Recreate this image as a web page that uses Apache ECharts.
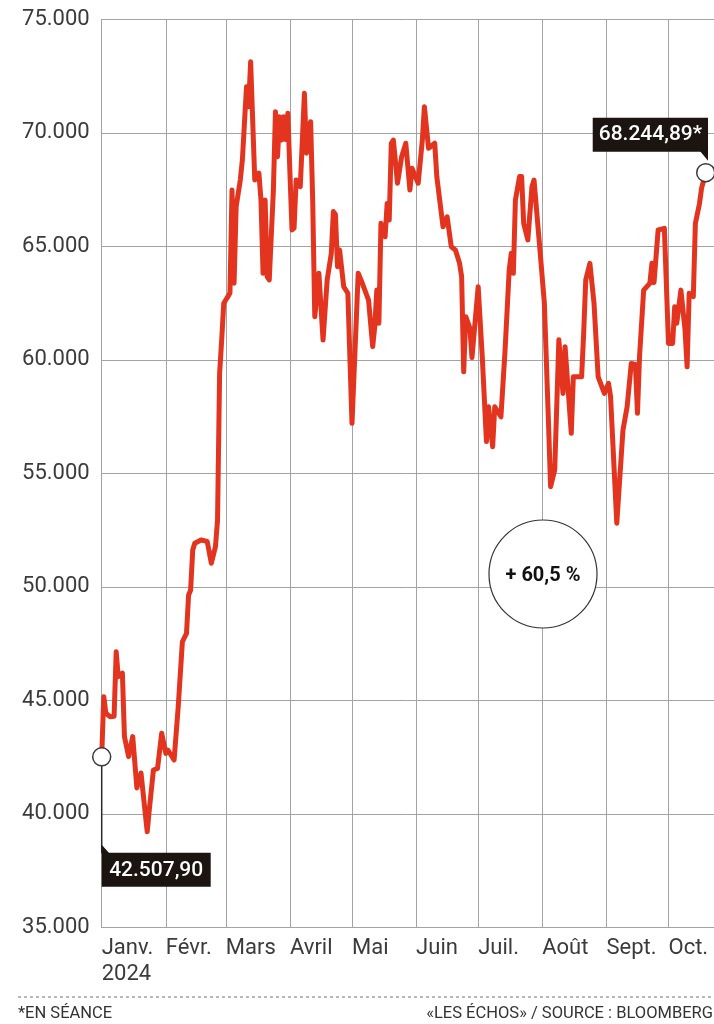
<!DOCTYPE html>
<html>
<head>
<meta charset="utf-8">
<script src="https://cdn.jsdelivr.net/npm/echarts@6/dist/echarts.min.js"></script>
<style>
  html, body { margin: 0; padding: 0; background: #fff; }
  #chart { width: 714px; height: 1024px; }
</style>
</head>
<body>
<div id="chart"></div>
<script>
// Bitcoin, cours en dollars, 2024
const dates = [
  '2024-01-01','2024-01-02','2024-01-03','2024-01-05','2024-01-07','2024-01-08','2024-01-09','2024-01-11','2024-01-12','2024-01-14',
  '2024-01-16','2024-01-18','2024-01-20','2024-01-23','2024-01-24','2024-01-26','2024-01-28','2024-01-30',
  '2024-02-01','2024-02-02','2024-02-05','2024-02-07','2024-02-09','2024-02-11','2024-02-12','2024-02-13','2024-02-14','2024-02-15',
  '2024-02-18','2024-02-21','2024-02-23','2024-02-25','2024-02-26','2024-02-27','2024-02-28','2024-02-29',
  '2024-03-02','2024-03-03','2024-03-04','2024-03-05','2024-03-06','2024-03-08','2024-03-09','2024-03-11','2024-03-12','2024-03-13',
  '2024-03-15','2024-03-17','2024-03-18','2024-03-19','2024-03-20','2024-03-21','2024-03-22','2024-03-24','2024-03-25','2024-03-26',
  '2024-03-27','2024-03-28','2024-03-29','2024-03-30','2024-03-31',
  '2024-04-01','2024-04-02','2024-04-03','2024-04-04','2024-04-06','2024-04-07','2024-04-08','2024-04-09','2024-04-11','2024-04-12',
  '2024-04-13','2024-04-15','2024-04-17','2024-04-19','2024-04-21','2024-04-22','2024-04-23','2024-04-24','2024-04-25','2024-04-27',
  '2024-04-29',
  '2024-05-01','2024-05-04','2024-05-06','2024-05-09','2024-05-10','2024-05-11','2024-05-12','2024-05-13','2024-05-14','2024-05-15',
  '2024-05-17','2024-05-18','2024-05-19','2024-05-20','2024-05-21','2024-05-23','2024-05-25','2024-05-27','2024-05-29','2024-05-30',
  '2024-06-02','2024-06-04','2024-06-05','2024-06-07','2024-06-10','2024-06-11','2024-06-12','2024-06-14','2024-06-16','2024-06-18',
  '2024-06-20','2024-06-22','2024-06-23','2024-06-24','2024-06-25','2024-06-27','2024-06-28',
  '2024-07-01','2024-07-03','2024-07-05','2024-07-06','2024-07-08','2024-07-09','2024-07-12','2024-07-14','2024-07-16','2024-07-17',
  '2024-07-18','2024-07-19','2024-07-21','2024-07-22','2024-07-23','2024-07-25','2024-07-27','2024-07-28','2024-07-31',
  '2024-08-02','2024-08-04','2024-08-05','2024-08-07','2024-08-09','2024-08-11','2024-08-12','2024-08-15','2024-08-16','2024-08-20',
  '2024-08-21','2024-08-22','2024-08-24','2024-08-26','2024-08-28','2024-08-31',
  '2024-09-02','2024-09-03','2024-09-06','2024-09-09','2024-09-11','2024-09-13','2024-09-15','2024-09-16','2024-09-17','2024-09-19',
  '2024-09-22','2024-09-23','2024-09-24','2024-09-26','2024-09-29',
  '2024-10-01','2024-10-03','2024-10-04','2024-10-05','2024-10-07','2024-10-09','2024-10-10','2024-10-11','2024-10-13','2024-10-14',
  '2024-10-16','2024-10-17','2024-10-19'
];

const prices = [
  42507.90,45160,44440,44280,44300,47140,46040,46200,43400,42520,
  43400,41140,41800,39210,40170,41930,42000,43550,
  42660,42810,42370,44720,47580,47950,49630,49860,51620,51920,
  52060,52000,51040,51770,52940,59400,60870,62490,
  62780,62940,67480,63370,66750,67920,68800,72030,71150,73130,
  67920,68220,67040,63810,67040,63660,63520,67480,70930,68950,
  70710,69680,70710,69700,70860,
  68220,65720,65800,67920,67630,69680,71740,69100,70490,67040,
  61900,63810,60870,63520,64690,66530,66400,64100,64840,63220,
  62930,
  57200,63810,63370,62630,61610,60580,61460,63070,61610,66010,
  65420,66890,66160,69540,69680,67780,68950,69540,67480,68440,
  67780,69680,71150,69320,69540,68070,67330,65860,66300,64980,
  64840,64250,63660,59470,61900,61400,60100,
  63220,60100,56400,57930,56170,57930,57490,60430,63960,64690,
  63810,67040,68070,68070,66010,65280,67630,67920,64690,
  62490,57200,54410,55150,60880,58520,60580,56760,59250,59250,
  61170,63520,64250,62490,59250,58520,
  58960,58380,52800,56910,57930,59840,59800,57640,60140,63070,
  63370,64250,63400,65720,65790,
  60720,60720,62340,61610,63070,61310,59690,62930,62780,66010,
  66890,67560,68244.89
];

const monthLabels = ['Janv.','Févr.','Mars','Avril','Mai','Juin','Juil.','Août','Sept.','Oct.','Nov.','Déc.'];
const yearLabel = '2024';
const yTicks = [35000, 40000, 45000, 50000, 55000, 60000, 65000, 70000, 75000];
const footnote = '*EN SÉANCE';
const sourceNote = '«LES ÉCHOS» / SOURCE : BLOOMBERG';

const FONT = 'Roboto, "Noto Sans", sans-serif';
const LINE_RED = '#e2341f';
const GRID_GRAY = '#a3a3a3';
const LABEL_DARK = '#1c1411';
const DAY = 86400000;

// French number format: 42507.9 -> "42.507,90"
function frNumber(v, decimals) {
  const parts = v.toFixed(decimals).split('.');
  const intPart = parts[0].replace(/\B(?=(\d{3})+(?!\d))/g, '.');
  return parts.length > 1 ? intPart + ',' + parts[1] : intPart;
}

const series = dates.map((d, i) => [d, prices[i]]);
const first = series[0];
const last = series[series.length - 1];
const change = (last[1] / first[1] - 1) * 100;

const chart = echarts.init(document.getElementById('chart'), null, { renderer: 'canvas' });

chart.setOption({
  animation: false,
  backgroundColor: '#fff',
  grid: { left: 101.7, top: 19.3, width: 613, height: 908, containLabel: false },
  xAxis: {
    type: 'time',
    min: '2024-01-01',
    max: '2024-10-23',
    minInterval: 28 * DAY,
    maxInterval: 31 * DAY,
    axisLine: { show: true, lineStyle: { color: GRID_GRAY, width: 1 } },
    axisTick: { show: false },
    splitLine: { show: true, lineStyle: { color: GRID_GRAY, width: 1 } },
    axisLabel: {
      show: true,
      showMinLabel: true,
      showMaxLabel: false,
      align: 'left',
      margin: 8,
      color: '#3b3b3b',
      fontFamily: FONT,
      fontSize: 22,
      lineHeight: 26,
      formatter: function (val) {
        const m = new Date(val).getMonth();
        return m === 0 ? monthLabels[0] + '\n' + yearLabel : monthLabels[m];
      }
    }
  },
  yAxis: {
    type: 'value',
    min: yTicks[0],
    max: yTicks[yTicks.length - 1],
    interval: yTicks[1] - yTicks[0],
    axisLine: { show: false },
    axisTick: { show: false },
    splitLine: { show: true, lineStyle: { color: GRID_GRAY, width: 1 } },
    axisLabel: {
      margin: 12,
      color: '#3b3b3b',
      fontFamily: FONT,
      fontSize: 22,
      formatter: v => frNumber(v, 0)
    }
  },
  series: [
    {
      type: 'line',
      data: series,
      showSymbol: false,
      symbol: 'none',
      z: 3,
      lineStyle: { color: LINE_RED, width: 5, join: 'round', cap: 'round' }
    },
    {
      type: 'scatter',
      data: [first, last],
      symbol: 'circle',
      symbolSize: 18,
      z: 6,
      itemStyle: { color: '#fff', opacity: 1, borderColor: '#3a3a3a', borderWidth: 1.5 }
    }
  ]
});

const p0 = chart.convertToPixel({ gridIndex: 0 }, first);
const p1 = chart.convertToPixel({ gridIndex: 0 }, last);

const startText = frNumber(first[1], 2);
const endText = frNumber(last[1], 2) + '*';
const changeText = '+ ' + frNumber(change, 1) + ' %';

const labelFont = '500 21px ' + FONT;

chart.setOption({
  graphic: [
    // start value callout
    { type: 'line', z: 4, shape: { x1: p0[0], y1: p0[1] + 9, x2: p0[0], y2: p0[1] + 96 },
      style: { stroke: '#2a2a2a', lineWidth: 1.5 } },
    { type: 'polygon', z: 4, shape: { points: [[p0[0], p0[1] + 88], [p0[0], p0[1] + 97], [p0[0] + 8, p0[1] + 97]] },
      style: { fill: LABEL_DARK } },
    { type: 'rect', z: 4, shape: { x: p0[0], y: p0[1] + 96, width: 109, height: 34 },
      style: { fill: LABEL_DARK } },
    { type: 'text', z: 5, style: { text: startText, x: p0[0] + 54.5, y: p0[1] + 113.5,
      textAlign: 'center', textVerticalAlign: 'middle', fill: '#fff', font: labelFont } },

    // end value callout
    { type: 'rect', z: 4, shape: { x: p1[0] - 113, y: p1[1] - 55, width: 115.3, height: 34 },
      style: { fill: LABEL_DARK } },
    { type: 'polygon', z: 4, shape: { points: [[p1[0] - 6, p1[1] - 22], [p1[0] + 2.3, p1[1] - 22], [p1[0] + 2.3, p1[1] - 12]] },
      style: { fill: LABEL_DARK } },
    { type: 'text', z: 5, style: { text: endText, x: p1[0] - 55.3, y: p1[1] - 37.5,
      textAlign: 'center', textVerticalAlign: 'middle', fill: '#fff', font: labelFont } },

    // overall change badge
    { type: 'circle', z: 1, shape: { cx: 543, cy: 574, r: 54 },
      style: { fill: '#fff', stroke: '#333', lineWidth: 1.2 } },
    { type: 'text', z: 5, style: { text: changeText, x: 543, y: 576,
      textAlign: 'center', textVerticalAlign: 'middle', fill: '#111', font: 'bold 20px ' + FONT } },

    // footer
    { type: 'line', z: 1, shape: { x1: 18, y1: 997, x2: 714, y2: 997 },
      style: { stroke: '#8a8a8a', lineWidth: 1.2, lineDash: [3, 3] } },
    { type: 'text', z: 5, style: { text: footnote, x: 18, y: 1014, textAlign: 'left',
      textVerticalAlign: 'middle', fill: '#333', font: '16.5px ' + FONT } },
    { type: 'text', z: 5, style: { text: sourceNote, x: 713, y: 1014, textAlign: 'right',
      textVerticalAlign: 'middle', fill: '#333', font: '16.5px ' + FONT } }
  ]
});
</script>
</body>
</html>
